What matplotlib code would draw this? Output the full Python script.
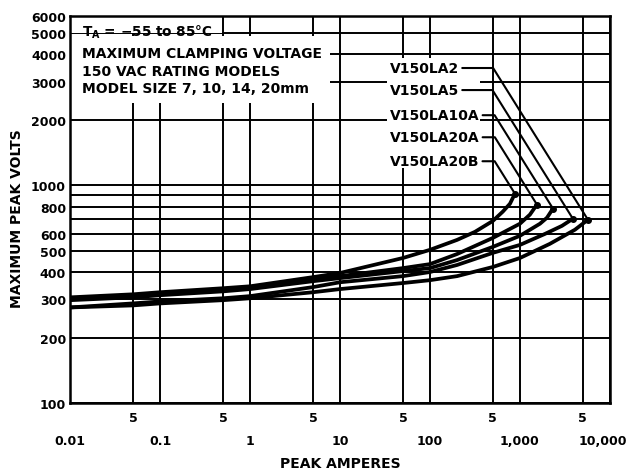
import matplotlib
matplotlib.use('Agg')
import matplotlib.pyplot as plt
from matplotlib.patches import Rectangle
from matplotlib.ticker import NullFormatter
from matplotlib.transforms import ScaledTranslation

# peak amperes / max peak volts for each model
la20b_amps = [0.01, 0.05, 0.1, 0.5, 1, 5, 10, 50, 100, 200, 316, 500, 645, 775, 880]
la20b_volts = [306, 316, 323, 337, 344, 379, 396, 464, 506, 562, 612, 687, 758, 824, 917]
la20a_amps = [0.01, 0.05, 0.1, 0.5, 1, 5, 10, 50, 100, 200, 500, 1000, 1290, 1545]
la20a_volts = [303, 313, 320, 334, 341, 371, 383, 417, 435, 484, 574, 667, 734, 817]
la10a_amps = [0.01, 0.05, 0.1, 0.5, 1, 5, 10, 50, 100, 200, 500, 1000, 1670, 2000, 2330]
la10a_volts = [297, 306, 313, 326, 334, 363, 375, 404, 417, 454, 522, 587, 667, 711, 783]
la5_amps = [0.01, 0.05, 0.1, 0.5, 1, 5, 10, 50, 100, 200, 500, 1000, 1900, 2930, 3880]
la5_volts = [275, 287, 293, 303, 310, 341, 359, 383, 400, 431, 490, 533, 599, 652, 703]
la2_amps = [0.01, 0.05, 0.1, 0.5, 1, 5, 10, 50, 100, 200, 500, 1000, 2150, 4090, 5700]
la2_volts = [275, 281, 287, 297, 303, 323, 334, 356, 367, 383, 422, 464, 539, 626, 696]

models = ['V150LA2', 'V150LA5', 'V150LA10A', 'V150LA20A', 'V150LA20B']
curves = [(la2_amps, la2_volts), (la5_amps, la5_volts), (la10a_amps, la10a_volts),
          (la20a_amps, la20a_volts), (la20b_amps, la20b_volts)]

y_ticks = [100, 200, 300, 400, 500, 600, 800, 1000, 2000, 3000, 4000, 5000, 6000]
y_extra_grid = [700, 900]
x_decades = [0.01, 0.1, 1, 10, 100, 1000, 10000]
x_decade_labels = ['0.01', '0.1', '1', '10', '100', '1,000', '10,000']
x_fives = [0.05, 0.5, 5, 50, 500, 5000]

plt.rcParams['font.family'] = ['DejaVu Sans']
plt.rcParams['mathtext.default'] = 'bf'

fig = plt.figure(figsize=(6.32, 4.77), dpi=100)
ax = fig.add_axes([0.111, 0.153, 0.854, 0.811])
ax.set_xscale('log')
ax.set_yscale('log')
ax.set_xlim(0.01, 10000)
ax.set_ylim(100, 6000)

ax.set_xticks(x_decades, x_decade_labels)
ax.set_xticks(x_fives, ['5'] * len(x_fives), minor=True)
ax.set_yticks(y_ticks, [str(v) for v in y_ticks])
ax.set_yticks(y_extra_grid, minor=True)
ax.yaxis.set_minor_formatter(NullFormatter())
ax.tick_params(axis='x', which='major', length=0, pad=22, labelsize=9)
ax.tick_params(axis='x', which='minor', length=0, pad=6, labelsize=9)
ax.tick_params(axis='y', which='both', length=0, pad=3, labelsize=9)
for lab in ax.get_xticklabels(which='both') + ax.get_yticklabels():
    lab.set_fontweight('bold')
# keep 10,000 inside the figure like the original
last = ax.xaxis.get_major_ticks()[-1].label1
last.set_transform(last.get_transform() + ScaledTranslation(-5 / 72, 0, fig.dpi_scale_trans))

ax.set_axisbelow(True)
ax.grid(which='both', color='black', lw=1.4)
for sp in ax.spines.values():
    sp.set_linewidth(1.8)

# white areas behind the text blocks
yt = ax.get_yaxis_transform()
ax.add_patch(Rectangle((0, 5000), 0.281, 1000, transform=yt, color='white', zorder=1, lw=0))
ax.add_patch(Rectangle((0, 2400), 0.481, 2450, transform=yt, color='white', zorder=1, lw=0))
ax.add_patch(Rectangle((0.587, 1200), 0.172, 2650, transform=yt, color='white', zorder=1, lw=0))

for amps, volts in curves:
    ax.plot(amps, volts, color='black', lw=2.7, solid_capstyle='round',
            solid_joinstyle='round', zorder=3)
    ax.plot(amps[-1], volts[-1], 'o', color='black', ms=4, zorder=4)

label_y = [0.866, 0.809, 0.744, 0.687, 0.625]
for name, (amps, volts), ly in zip(models, curves, label_y):
    ax.annotate(name, xy=(amps[-1], volts[-1]), xycoords='data',
                xytext=(0.593, ly), textcoords='axes fraction',
                ha='left', va='center', fontsize=10, fontweight='bold', zorder=5,
                arrowprops=dict(arrowstyle='-', color='black', lw=1.5,
                                connectionstyle='angle,angleA=0,angleB=-58,rad=0',
                                shrinkA=0, shrinkB=0))

ax.text(0.022, 0.962, r'T$_{A}$ = −55 to 85°C', transform=ax.transAxes,
        fontsize=9.8, fontweight='bold', va='center', ha='left', zorder=5)
ax.text(0.022, 0.906, 'MAXIMUM CLAMPING VOLTAGE', transform=ax.transAxes,
        fontsize=10, fontweight='bold', va='center', ha='left', zorder=5)
ax.text(0.022, 0.859, '150 VAC RATING MODELS', transform=ax.transAxes,
        fontsize=10, fontweight='bold', va='center', ha='left', zorder=5)
ax.text(0.022, 0.814, 'MODEL SIZE 7, 10, 14, 20mm', transform=ax.transAxes,
        fontsize=10, fontweight='bold', va='center', ha='left', zorder=5)

ax.set_xlabel('PEAK AMPERES', fontsize=10, fontweight='bold', labelpad=7)
ax.set_ylabel('MAXIMUM PEAK VOLTS', fontsize=10, fontweight='bold')
ax.yaxis.set_label_coords(-0.085, 0.48)

fig.savefig('out.png', dpi=100)
